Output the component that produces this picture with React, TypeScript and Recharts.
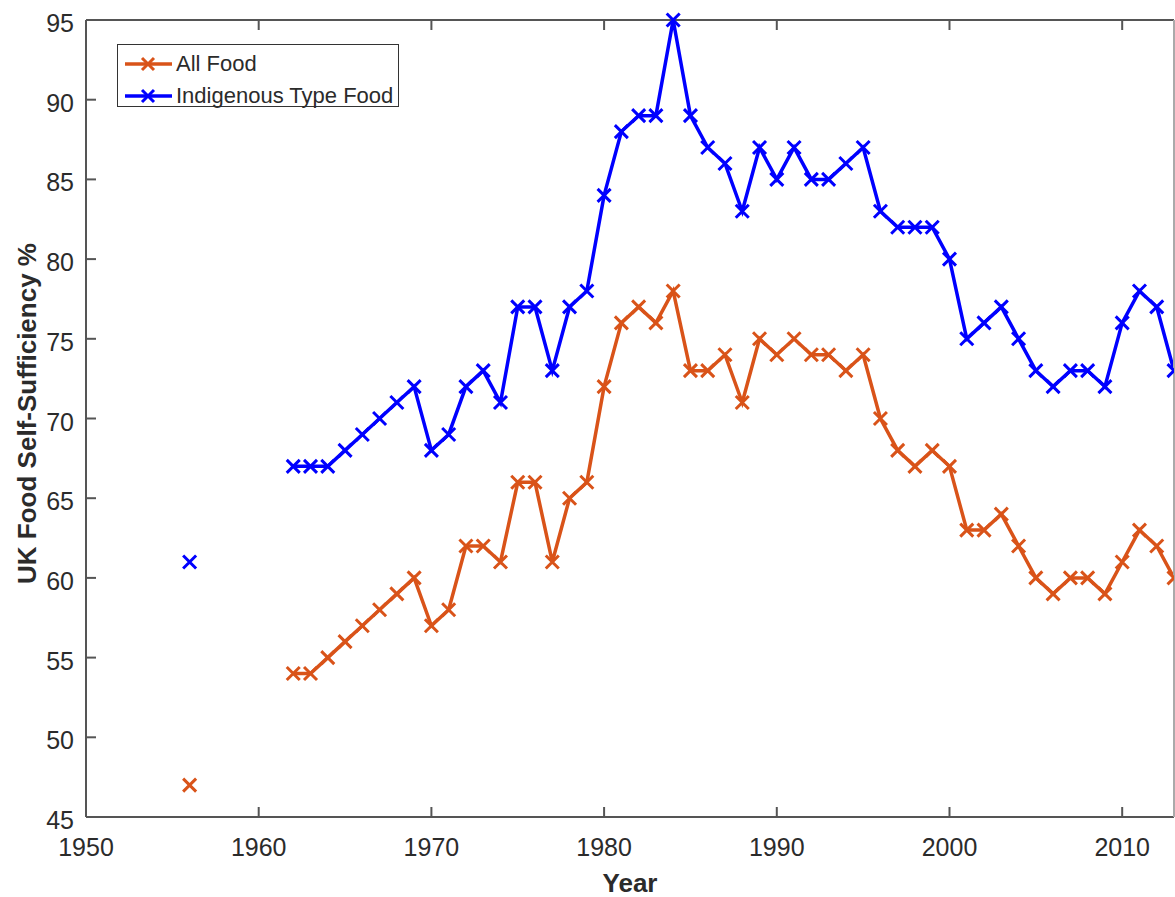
import { Line, LineChart, XAxis, YAxis } from 'recharts';

// UK food self-sufficiency (%) by year; null = no figure published
const years = [
  1956, 1957, 1958, 1959, 1960, 1961, 1962, 1963, 1964, 1965, 1966, 1967, 1968, 1969,
  1970, 1971, 1972, 1973, 1974, 1975, 1976, 1977, 1978, 1979,
  1980, 1981, 1982, 1983, 1984, 1985, 1986, 1987, 1988, 1989,
  1990, 1991, 1992, 1993, 1994, 1995, 1996, 1997, 1998, 1999,
  2000, 2001, 2002, 2003, 2004, 2005, 2006, 2007, 2008, 2009,
  2010, 2011, 2012, 2013,
];

const allFood = [
  47, null, null, null, null, null, 54, 54, 55, 56, 57, 58, 59, 60,
  57, 58, 62, 62, 61, 66, 66, 61, 65, 66,
  72, 76, 77, 76, 78, 73, 73, 74, 71, 75,
  74, 75, 74, 74, 73, 74, 70, 68, 67, 68,
  67, 63, 63, 64, 62, 60, 59, 60, 60, 59,
  61, 63, 62, 60,
];

const indigenousFood = [
  61, null, null, null, null, null, 67, 67, 67, 68, 69, 70, 71, 72,
  68, 69, 72, 73, 71, 77, 77, 73, 77, 78,
  84, 88, 89, 89, 95, 89, 87, 86, 83, 87,
  85, 87, 85, 85, 86, 87, 83, 82, 82, 82,
  80, 75, 76, 77, 75, 73, 72, 73, 73, 72,
  76, 78, 77, 73,
];

const xTicks = [1950, 1960, 1970, 1980, 1990, 2000, 2010];
const yTicks = [45, 50, 55, 60, 65, 70, 75, 80, 85, 90, 95];

const series = [
  { key: 'allFood', name: 'All Food', color: '#D95319' },
  { key: 'indigenous', name: 'Indigenous Type Food', color: '#0000FF' },
];

const data = years.map((year, i) => ({
  year,
  allFood: allFood[i],
  indigenous: indigenousFood[i],
}));

const FONT = '"Liberation Sans", Arial, sans-serif';
const AXIS = '#555';
const TEXT = '#2b2b2b';
const TICK_LEN = 10;
const X_LABEL_GAP = 30;
const Y_LABEL_GAP = 12;

// x markers along each series
const Cross = (props: any) => {
  const { cx, cy, stroke, index, value } = props;
  if (value == null || cx == null || cy == null) return <g key={`c-${index}`} />;
  const r = 6.5;
  return (
    <path
      key={`c-${index}`}
      d={`M${cx - r},${cy - r}L${cx + r},${cy + r}M${cx - r},${cy + r}L${cx + r},${cy - r}`}
      stroke={stroke}
      strokeWidth={3}
      fill="none"
    />
  );
};

// ticks point into the plot box, labels sit outside
const BottomTick = ({ x, y, payload }: any) => (
  <g>
    <line x1={x} y1={y - X_LABEL_GAP} x2={x} y2={y - X_LABEL_GAP - TICK_LEN} stroke={AXIS} strokeWidth={2} />
    <text x={x} y={y} textAnchor="middle" dominantBaseline="central" fill={TEXT} fontSize={25} fontFamily={FONT}>
      {payload.value}
    </text>
  </g>
);

const LeftTick = ({ x, y, payload }: any) => (
  <g>
    <line x1={x + Y_LABEL_GAP} y1={y} x2={x + Y_LABEL_GAP + TICK_LEN} y2={y} stroke={AXIS} strokeWidth={2} />
    <text x={x} y={y + 3} textAnchor="end" dominantBaseline="central" fill={TEXT} fontSize={25} fontFamily={FONT}>
      {payload.value}
    </text>
  </g>
);

const TopTick = ({ x, y }: any) => (
  <line x1={x} y1={y} x2={x} y2={y + TICK_LEN} stroke={AXIS} strokeWidth={2} />
);

const RightTick = ({ x, y }: any) => (
  <line x1={x} y1={y} x2={x - TICK_LEN} y2={y} stroke={AXIS} strokeWidth={2} />
);

const LegendBox = () => (
  <div
    style={{
      position: 'absolute',
      left: 117,
      top: 44,
      border: '1.5px solid #333',
      background: '#fff',
      width: 282,
      padding: '3px 0 0',
      height: 63,
      boxSizing: 'border-box',
      fontFamily: FONT,
      fontSize: 22,
      color: TEXT,
    }}
  >
    {series.map((s) => (
      <div key={s.key} style={{ display: 'flex', alignItems: 'center', height: 32 }}>
        <svg width={58} height={20} style={{ flex: 'none' }}>
          <line x1={7} y1={10} x2={54} y2={10} stroke={s.color} strokeWidth={3.5} />
          <path d="M24,4L36,16M24,16L36,4" stroke={s.color} strokeWidth={3} />
        </svg>
        <span>{s.name}</span>
      </div>
    ))}
  </div>
);

export default function App() {
  return (
    <div style={{ position: 'absolute', left: 0, top: 0, width: 1175, height: 897, background: '#fff' }}>
      <LineChart width={1175} height={897} data={data} margin={{ top: 19, right: 0, bottom: 0, left: 0 }}>
        <XAxis
          dataKey="year"
          type="number"
          domain={[1950, 2013]}
          ticks={xTicks}
          allowDataOverflow
          height={80}
          stroke={AXIS}
          strokeWidth={2}
          tickLine={false}
          tickSize={0}
          tickMargin={X_LABEL_GAP}
          tick={<BottomTick />}
          label={{ value: 'Year', position: 'insideBottom', offset: 5, fill: TEXT, fontSize: 26, fontWeight: 'bold', fontFamily: FONT }}
        />
        <XAxis
          xAxisId="top"
          orientation="top"
          dataKey="year"
          type="number"
          domain={[1950, 2013]}
          ticks={xTicks}
          height={1}
          stroke={AXIS}
          strokeWidth={2}
          tickLine={false}
          tickSize={0}
          tickMargin={0}
          tick={<TopTick />}
        />
        <YAxis
          type="number"
          domain={[45, 95]}
          ticks={yTicks}
          width={86}
          stroke={AXIS}
          strokeWidth={2}
          tickLine={false}
          tickSize={0}
          tickMargin={Y_LABEL_GAP}
          tick={<LeftTick />}
          label={{
            value: 'UK Food Self-Sufficiency %',
            angle: -90,
            position: 'insideLeft',
            offset: 27,
            dy: -5,
            fill: TEXT,
            fontSize: 26,
            fontWeight: 'bold',
            fontFamily: FONT,
            style: { textAnchor: 'middle' },
          }}
        />
        <YAxis
          yAxisId="right"
          orientation="right"
          type="number"
          domain={[45, 95]}
          ticks={yTicks}
          width={1}
          stroke="#aaa"
          strokeWidth={2}
          tickLine={false}
          tickSize={0}
          tickMargin={0}
          tick={<RightTick />}
        />
        {series.map((s) => (
          <Line
            key={s.key}
            dataKey={s.key}
            name={s.name}
            stroke={s.color}
            strokeWidth={3.5}
            dot={<Cross />}
            activeDot={false}
            isAnimationActive={false}
          />
        ))}
      </LineChart>
      <LegendBox />
    </div>
  );
}
